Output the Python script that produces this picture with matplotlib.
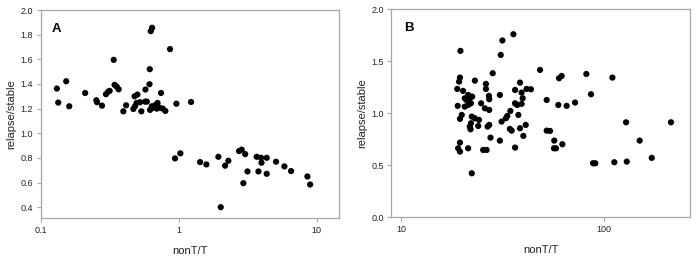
import matplotlib
matplotlib.use("Agg")
import matplotlib.pyplot as plt
from matplotlib.ticker import FixedLocator, FixedFormatter, NullLocator

plt.rcParams['font.family'] = ['Liberation Sans', 'DejaVu Sans']

# Panel A data
a_x = [0.131, 0.134, 0.153, 0.161, 0.21, 0.253, 0.256, 0.278, 0.297, 0.309,
       0.316, 0.338, 0.343, 0.355, 0.367, 0.397, 0.416, 0.469, 0.479, 0.502,
       0.482, 0.495, 0.524, 0.536, 0.571, 0.574, 0.587, 0.617, 0.614, 0.62,
       0.627, 0.641, 0.638, 0.653, 0.673, 0.702, 0.693, 0.723, 0.745, 0.766,
       0.80, 0.865, 0.962, 1.228, 0.94, 1.028, 1.428, 1.586, 1.938, 2.015,
       2.167, 2.29, 2.736, 2.86, 3.03, 2.94, 3.15, 3.67, 3.95, 3.98,
       3.78, 4.34, 4.34, 5.07, 5.83, 6.52, 8.56, 8.95]
a_y = [1.363, 1.249, 1.422, 1.219, 1.327, 1.268, 1.252, 1.224, 1.317, 1.338,
       1.344, 1.596, 1.393, 1.379, 1.357, 1.178, 1.227, 1.197, 1.30, 1.314,
       1.219, 1.246, 1.252, 1.178, 1.257, 1.355, 1.257, 1.52, 1.398, 1.19,
       1.829, 1.856, 1.219, 1.208, 1.227, 1.246, 1.20, 1.208, 1.327, 1.20,
       1.181, 1.683, 1.24, 1.254, 0.796, 0.837, 0.766, 0.747, 0.809, 0.40,
       0.737, 0.777, 0.856, 0.867, 0.831, 0.595, 0.69, 0.809, 0.801, 0.761,
       0.69, 0.801, 0.671, 0.769, 0.731, 0.693, 0.649, 0.584]

# Panel B data
b_x = [19.6, 31.6, 35.8, 31.0, 28.3, 48.5, 19.5, 19.3, 23.1, 26.2,
       26.2, 18.9, 20.2, 21.4, 20.6, 21.8, 22.4, 21.0, 22.1, 24.8,
       27.1, 27.2, 30.7, 38.6, 36.5, 39.3, 41.6, 43.7, 39.8, 52.3,
       19.0, 20.6, 21.4, 25.9, 27.2, 36.5, 37.4, 39.3, 19.9, 19.5,
       22.3, 23.1, 24.2, 31.3, 32.9, 33.4, 34.6, 37.9, 22.1, 21.8,
       22.0, 24.0, 27.2, 26.7, 34.4, 35.1, 38.6, 41.2, 52.3, 54.3,
       27.6, 30.7, 40.1, 19.5, 19.1, 19.5, 21.4, 25.4, 26.4, 36.5,
       22.3, 59.7, 65.6, 72.2, 60.2, 62.0, 57.0, 56.8, 58.1, 62.5,
       82.1, 86.6, 88.6, 90.9, 110.4, 112.9, 129.0, 130.0, 150.6, 172.7,
       215.0]
b_y = [1.60, 1.70, 1.76, 1.561, 1.385, 1.417, 1.343, 1.304, 1.314, 1.282,
       1.234, 1.234, 1.215, 1.176, 1.144, 1.144, 1.160, 1.128, 1.096, 1.096,
       1.167, 1.135, 1.176, 1.295, 1.224, 1.199, 1.234, 1.231, 1.144, 1.128,
       1.071, 1.064, 1.08, 1.048, 1.032, 1.096, 1.08, 1.09, 0.984, 0.946,
       0.968, 0.952, 0.936, 0.920, 0.952, 0.974, 1.022, 0.984, 0.904, 0.872,
       0.846, 0.878, 0.888, 0.872, 0.849, 0.833, 0.856, 0.888, 0.833, 0.830,
       0.766, 0.737, 0.782, 0.718, 0.663, 0.631, 0.663, 0.647, 0.647, 0.670,
       0.423, 1.08, 1.071, 1.103, 1.337, 1.359, 0.737, 0.663, 0.663, 0.702,
       1.378, 1.183, 0.519, 0.519, 1.343, 0.529, 0.913, 0.535, 0.737, 0.571,
       0.913]

a_xticks = [0.1, 1, 10]
a_xticklabels = ["0.1", "1", "10"]
a_yticks = [0.4, 0.6, 0.8, 1.0, 1.2, 1.4, 1.6, 1.8, 2.0]
b_xticks = [10, 100]
b_xticklabels = ["10", "100"]
b_yticks = [0.0, 0.5, 1.0, 1.5, 2.0]

fig = plt.figure(figsize=(6.97, 2.58), dpi=100)
axA = fig.add_axes([0.0584, 0.154, 0.428, 0.807])
axB = fig.add_axes([0.5614, 0.158, 0.4286, 0.806])

spine_col = '#a6a6a6'

def style(ax, xticks, xlabels, yticks):
    ax.set_xscale('log')
    ax.xaxis.set_major_locator(FixedLocator(xticks))
    ax.xaxis.set_major_formatter(FixedFormatter(xlabels))
    ax.xaxis.set_minor_locator(NullLocator())
    ax.set_yticks(yticks)
    ax.set_yticklabels(["%.1f" % v for v in yticks])
    for s in ax.spines.values():
        s.set_color(spine_col)
        s.set_linewidth(0.9)
    ax.tick_params(axis='both', which='major', direction='out', length=3,
                   width=0.8, color=spine_col, labelsize=6.5, labelcolor='#222222', pad=2.5)
    ax.set_xlabel('nonT/T', fontsize=8, labelpad=8, color='#222222')
    ax.set_ylabel('relapse/stable', fontsize=8, labelpad=3, color='#222222')

axA.scatter(a_x, a_y, s=20, color='black', edgecolors='none', zorder=3)
style(axA, a_xticks, a_xticklabels, a_yticks)
axA.set_xlim(0.1, 14.5)
axA.set_ylim(0.31, 2.0)
axA.text(0.038, 0.94, 'A', transform=axA.transAxes, fontsize=9.5, fontweight='bold', va='top', ha='left')

axB.scatter(b_x, b_y, s=20, color='black', edgecolors='none', zorder=3)
style(axB, b_xticks, b_xticklabels, b_yticks)
axB.set_xlim(8.93, 267)
axB.set_ylim(0.0, 2.0)
axB.text(0.044, 0.94, 'B', transform=axB.transAxes, fontsize=9.5, fontweight='bold', va='top', ha='left')

fig.savefig('out.png', dpi=100)
